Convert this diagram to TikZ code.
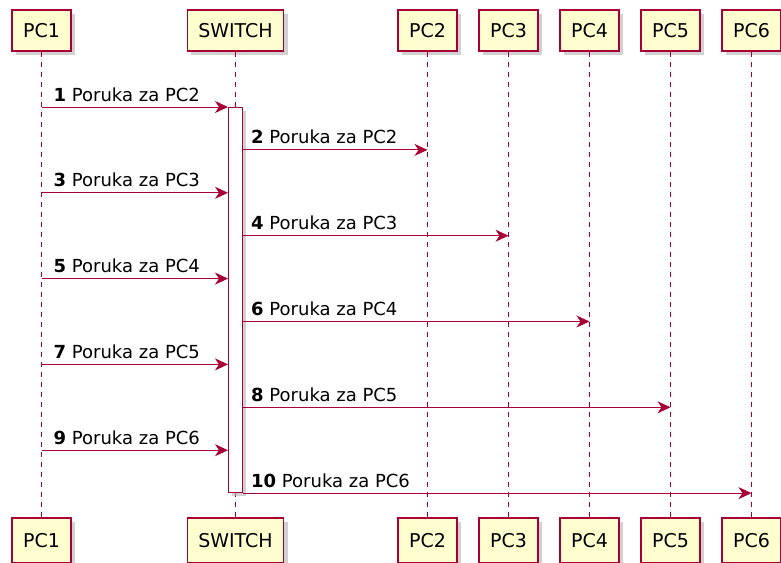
\documentclass[tikz,border=0pt]{standalone}
\usepackage{fontspec}
\setmainfont{DejaVu Sans}
\usetikzlibrary{shadows,arrows.meta}
\definecolor{umlred}{RGB}{168,0,54}
\definecolor{umlfill}{RGB}{254,254,206}

\begin{document}
\begin{tikzpicture}[x=1pt,y=-1pt,
  part/.style={draw=umlred,line width=1.4pt,fill=umlfill,minimum height=41pt,inner xsep=11pt,inner ysep=0pt,
    font=\fontsize{19}{22}\selectfont,drop shadow={shadow xshift=4pt,shadow yshift=-4pt,fill=black!30,opacity=.6}},
  life/.style={draw=umlred,line width=1.2pt,dash pattern=on 5pt off 5pt},
  msg/.style={draw=umlred,fill=umlred,line width=1pt,-{Stealth[length=13pt,width=12pt,inset=4pt]}},
  lbl/.style={anchor=base west,inner sep=0pt,font=\fontsize{18}{21}\selectfont}]
\useasboundingbox (0,0) rectangle (781,562);
\clip (0,0) rectangle (781,562);
% participants, top and bottom, with their lifelines
\foreach \n/\x/\t in {pc1/41.5/PC1,sw/235.5/SWITCH,pc2/427.5/PC2,pc3/508.5/PC3,pc4/589.5/PC4,pc5/670.5/PC5,pc6/751.5/PC6}{
  \node[part] (t\n) at (\x,30.5) {\t};
  \node[part,minimum height=45pt] (b\n) at (\x,540.5) {\t};
  \draw[life] (t\n) -- (b\n);
}
% activation of the switch
\node[draw=umlred,line width=1pt,fill=white,minimum width=14pt,minimum height=385pt,inner sep=0pt,
  drop shadow={shadow xshift=3pt,shadow yshift=-3pt,fill=black!30,opacity=.6}] (act) at (235.5,300) {};
% PC1 -> SWITCH
\foreach \k/\t in {1/2,3/3,5/4,7/5,9/6}{
  \pgfmathsetmacro\y{107+(\k-1)*42.9}
  \coordinate (s\k) at (tpc1 |- 0,\y);
  \coordinate (e\k) at (act.west |- 0,\y);
  \draw[msg] (s\k) -- (e\k);
  \node[lbl] (l\k) at ([xshift=12pt,yshift=6pt]s\k) {\textbf{\k} Poruka za PC\t};
}
% SWITCH -> PCn
\foreach \k/\t in {2/2,4/3,6/4,8/5,10/6}{
  \pgfmathsetmacro\y{107+(\k-1)*42.9}
  \coordinate (s\k) at (act.east |- 0,\y);
  \coordinate (e\k) at (tpc\t |- 0,\y);
  \draw[msg] (s\k) -- (e\k);
  \node[lbl] (l\k) at ([xshift=8pt,yshift=6pt]s\k) {\textbf{\k} Poruka za PC\t};
}
\end{tikzpicture}
\end{document}
